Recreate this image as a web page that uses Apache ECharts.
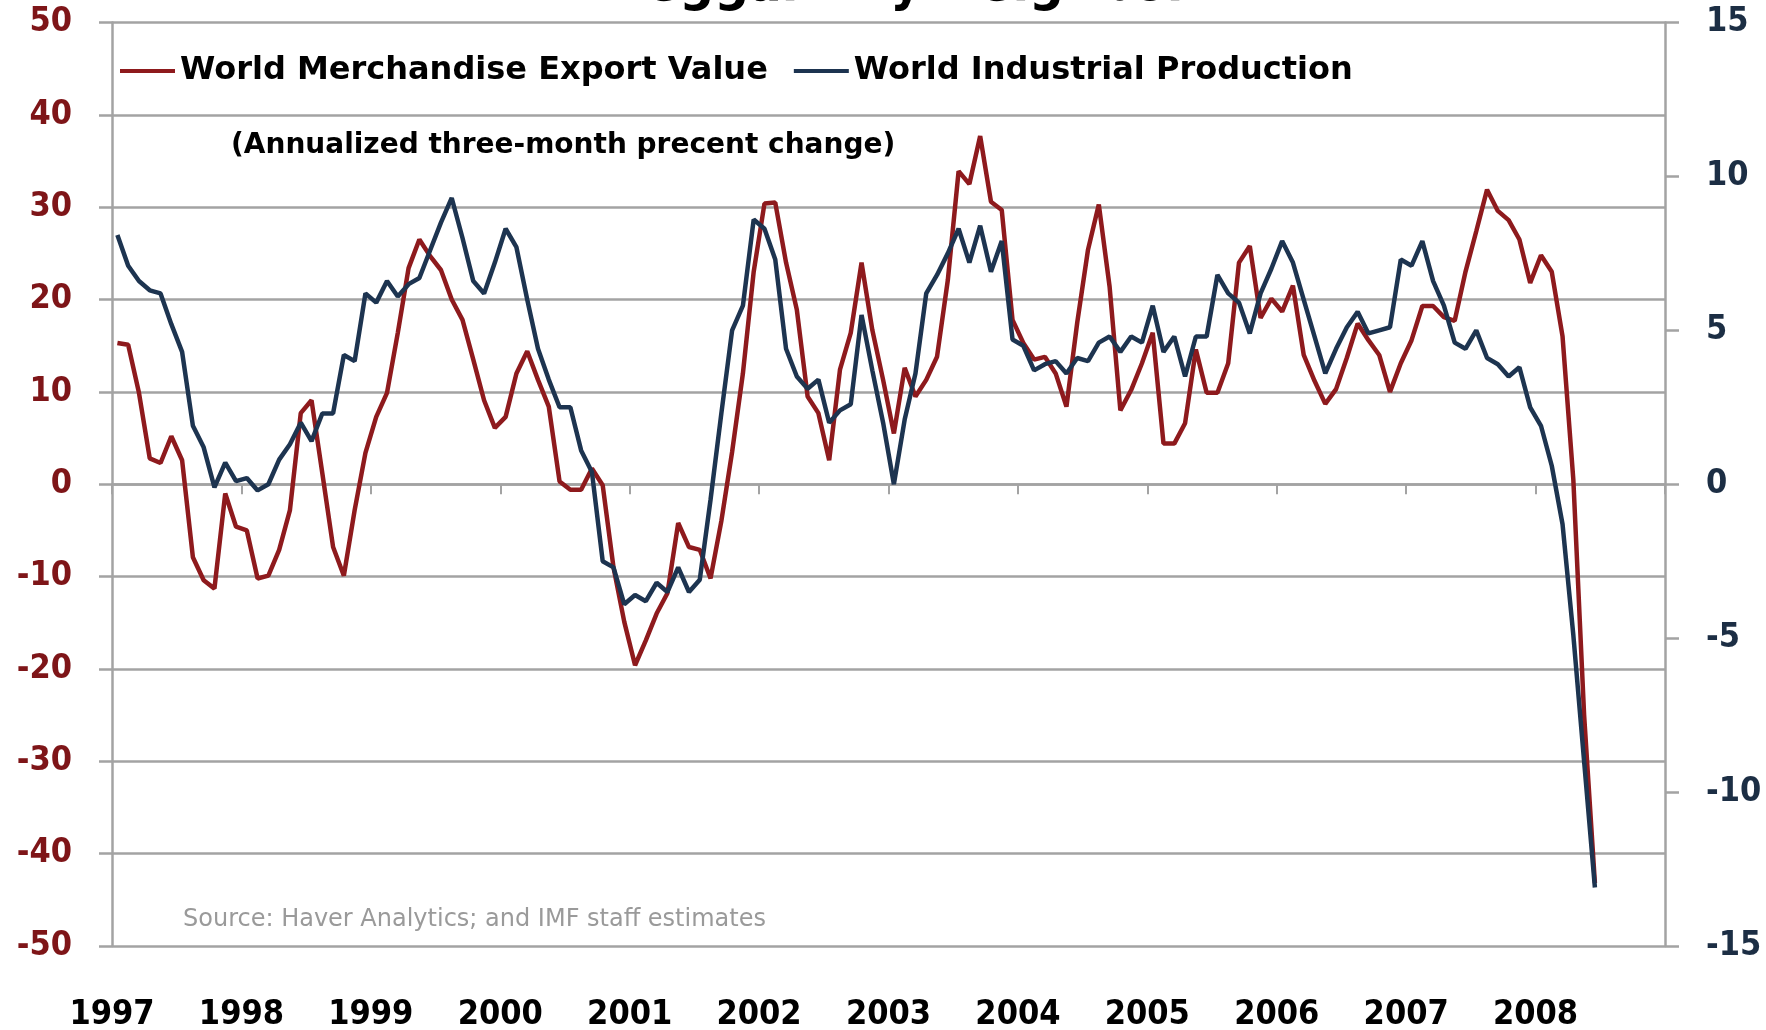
<!DOCTYPE html>
<html>
<head>
<meta charset="utf-8">
<script src="https://cdn.jsdelivr.net/npm/echarts@6/dist/echarts.min.js"></script>
<style>
  html, body { margin: 0; padding: 0; background: #fff; }
  #chart { width: 1766px; height: 1030px; }
</style>
</head>
<body>
<div id="chart"></div>
<script>
// year tick labels (one axis label per January)
const years = ["1997", "1998", "1999", "2000", "2001", "2002", "2003", "2004", "2005", "2006", "2007", "2008"];
const months = years.flatMap((y) => ["01", "02", "03", "04", "05", "06", "07", "08", "09", "10", "11", "12"].map((m) => y + "-" + m));

// World Merchandise Export Value, annualized 3-month % change (left axis)
const exportValue = [
  15.3, 15.1, 9.9, 2.8, 2.3, 5.2, 2.6, -7.9, -10.4, -11.3, -1.0, -4.6,
  -5.0, -10.2, -9.9, -7.1, -2.8, 7.7, 9.1, 1.2, -6.8, -9.9, -2.8, 3.4,
  7.3, 9.9, 16.4, 23.4, 26.5, 24.7, 23.2, 20.0, 17.8, 13.5, 9.1, 6.1,
  7.3, 12.0, 14.4, 11.3, 8.4, 0.3, -0.6, -0.6, 1.7, -0.1, -9.0, -14.9,
  -19.6, -16.9, -14.0, -11.8, -4.2, -6.8, -7.1, -10.2, -4.0, 3.5, 12.0, 23.0,
  30.4, 30.5, 24.0, 18.9, 9.5, 7.7, 2.6, 12.4, 16.4, 24.0, 16.7, 11.3,
  5.5, 12.6, 9.5, 11.3, 13.8, 22.1, 33.9, 32.5, 37.7, 30.6, 29.7, 17.8,
  15.3, 13.5, 13.8, 12.0, 8.4, 17.5, 25.4, 30.3, 21.4, 8.0, 10.2, 13.1,
  16.4, 4.4, 4.4, 6.6, 14.6, 9.9, 9.9, 13.1, 24.0, 25.8, 18.0, 20.1,
  18.7, 21.5, 14.0, 11.2, 8.7, 10.3, 13.7, 17.4, 15.6, 14.0, 10.0, 13.1,
  15.6, 19.3, 19.3, 18.1, 17.7, 23.0, 27.4, 31.9, 29.6, 28.6, 26.5, 21.8,
  24.8, 23.0, 16.0, 0.5, -25.0, -43.2
];

// World Industrial Production (right axis)
const industrialProd = [
  8.1, 7.1, 6.6, 6.3, 6.2, 5.2, 4.3, 1.9, 1.2, -0.1, 0.7, 0.1,
  0.2, -0.2, 0.0, 0.8, 1.3, 2.0, 1.4, 2.3, 2.3, 4.2, 4.0, 6.2,
  5.9, 6.6, 6.1, 6.5, 6.7, 7.6, 8.5, 9.3, 8.0, 6.6, 6.2, 7.2,
  8.3, 7.7, 6.0, 4.4, 3.4, 2.5, 2.5, 1.1, 0.4, -2.5, -2.7, -3.9,
  -3.6, -3.8, -3.2, -3.5, -2.7, -3.5, -3.1, -0.5, 2.3, 5.0, 5.8, 8.6,
  8.3, 7.3, 4.4, 3.5, 3.1, 3.4, 2.0, 2.4, 2.6, 5.5, 3.7, 2.0,
  0.0, 2.1, 3.6, 6.2, 6.8, 7.5, 8.3, 7.2, 8.4, 6.9, 7.9, 4.7,
  4.5, 3.7, 3.9, 4.0, 3.6, 4.1, 4.0, 4.6, 4.8, 4.3, 4.8, 4.6,
  5.8, 4.3, 4.8, 3.5, 4.8, 4.8, 6.8, 6.2, 5.9, 4.9, 6.2, 7.0,
  7.9, 7.2, 6.0, 4.8, 3.6, 4.4, 5.1, 5.6, 4.9, 5.0, 5.1, 7.3,
  7.1, 7.9, 6.6, 5.8, 4.6, 4.4, 5.0, 4.1, 3.9, 3.5, 3.8, 2.5,
  1.9, 0.6, -1.3, -4.9, -9.0, -13.1
];

const redColor = "#8e1a1d";
const blueColor = "#1d3450";
const gridGray = "#a3a3a3";
const condensed = '"DejaVu Sans Condensed", "DejaVu Sans", sans-serif';
const wide = '"DejaVu Sans", sans-serif';

const chart = echarts.init(document.getElementById("chart"));

chart.setOption({
  animation: false,
  backgroundColor: "#fff",
  grid: { left: 112, right: 101, top: 22.5, bottom: 84, outerBoundsMode: "none" },
  legend: {
    left: 120,
    top: 55,
    padding: 0,
    itemGap: 26,
    itemWidth: 55,
    itemHeight: 4,
    icon: "rect",
    textStyle: { fontFamily: wide, fontWeight: "bold", fontSize: 32, color: "#000" },
    data: ["World Merchandise Export Value", "World Industrial Production"]
  },
  graphic: [
    {
      // title sits mostly above the page edge, only its lower part shows
      type: "text",
      x: 900,
      y: -14,
      style: {
        text: "Beggar Thy Neighbor",
        font: 'bold 54px ' + condensed,
        fill: "#000",
        textAlign: "center",
        textVerticalAlign: "middle"
      }
    },
    {
      type: "text",
      x: 231,
      y: 146,
      style: {
        text: "(Annualized three-month precent change)",
        font: 'bold 28px ' + wide,
        fill: "#000",
        textAlign: "left",
        textVerticalAlign: "middle"
      }
    },
    {
      type: "text",
      x: 183,
      y: 920,
      style: {
        text: "Source: Haver Analytics; and IMF staff estimates",
        font: '24px ' + wide,
        fill: "#9a9a9a",
        textAlign: "left",
        textVerticalAlign: "middle"
      }
    }
  ],
  xAxis: [
    {
      type: "category",
      data: months,
      boundaryGap: true,
      axisLine: { onZero: true, onZeroAxisIndex: 0, lineStyle: { color: gridGray, width: 2.5 } },
      axisTick: {
        show: true,
        inside: true,
        length: -10,
        interval: (i) => i % 12 === 0,
        lineStyle: { color: gridGray, width: 2 }
      },
      axisLabel: { show: false },
      splitLine: { show: false }
    },
    {
      type: "category",
      data: years.concat([""]),
      boundaryGap: false,
      position: "bottom",
      axisLine: { show: false, onZero: false },
      axisTick: { show: false },
      axisLabel: {
        interval: 0,
        margin: 52,
        color: "#000",
        fontFamily: condensed,
        fontWeight: "bold",
        fontSize: 34
      },
      splitLine: { show: false }
    }
  ],
  yAxis: [
    {
      type: "value",
      position: "left",
      min: -50,
      max: 50,
      interval: 10,
      axisLine: { show: true, lineStyle: { color: gridGray, width: 2.5 } },
      axisTick: { show: true, length: 13, lineStyle: { color: gridGray, width: 2.5 } },
      axisLabel: { margin: 40, align: "right", color: "#7e1518", fontFamily: condensed, fontWeight: "bold", fontSize: 34 },
      splitLine: { show: true, lineStyle: { color: gridGray, width: 2.5 } }
    },
    {
      type: "value",
      position: "right",
      min: -15,
      max: 15,
      interval: 5,
      axisLine: { show: true, lineStyle: { color: gridGray, width: 2.5 } },
      axisTick: { show: true, length: 14, lineStyle: { color: gridGray, width: 2.5 } },
      axisLabel: { margin: 41, align: "left", color: "#1c2e44", fontFamily: condensed, fontWeight: "bold", fontSize: 34 },
      splitLine: { show: false }
    }
  ],
  series: [
    {
      name: "World Merchandise Export Value",
      type: "line",
      xAxisIndex: 0,
      yAxisIndex: 0,
      data: exportValue,
      showSymbol: false,
      symbol: "none",
      itemStyle: { color: redColor },
      lineStyle: { color: redColor, width: 4.5 },
      z: 3
    },
    {
      name: "World Industrial Production",
      type: "line",
      xAxisIndex: 0,
      yAxisIndex: 1,
      data: industrialProd,
      showSymbol: false,
      symbol: "none",
      itemStyle: { color: blueColor },
      lineStyle: { color: blueColor, width: 4.5 },
      z: 4
    }
  ]
});

window.addEventListener("resize", () => chart.resize());
</script>
</body>
</html>
